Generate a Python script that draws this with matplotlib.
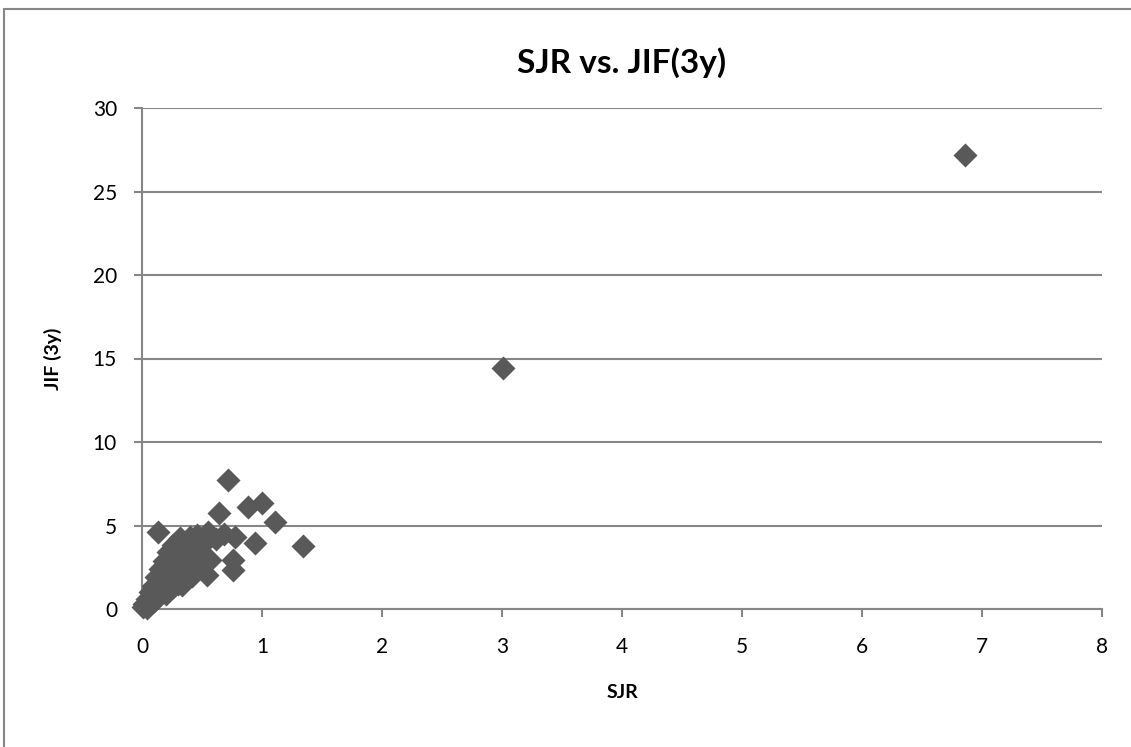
import matplotlib
matplotlib.use("Agg")
import matplotlib.pyplot as plt
from matplotlib.patches import Rectangle

plt.rcParams['font.family'] = ['Lato', 'DejaVu Sans']

# SJR and 3-year JIF per journal
sjr = [0.01, 0.02, 0.03, 0.05, 0.04,
       0.04, 0.06, 0.08, 0.10, 0.12,
       0.07, 0.09, 0.11, 0.14, 0.17, 0.20,
       0.09, 0.12, 0.15, 0.18, 0.22, 0.26, 0.30, 0.33,
       0.12, 0.15, 0.19, 0.23, 0.27, 0.31, 0.35, 0.38, 0.42, 0.34,
       0.15, 0.18, 0.22, 0.26, 0.30, 0.34, 0.38, 0.42, 0.46,
       0.18, 0.22, 0.26, 0.30, 0.34, 0.38, 0.42, 0.45, 0.49,
       0.22, 0.26, 0.30, 0.34, 0.38, 0.41, 0.45, 0.48,
       0.26, 0.30, 0.34, 0.38, 0.42, 0.45, 0.50,
       0.32, 0.40, 0.46,
       0.136, 0.55, 0.62, 0.68, 0.775, 0.64, 0.72, 0.88, 1.00, 1.11,
       0.94, 1.34, 0.76, 0.76, 0.54, 0.57, 3.01, 6.86]
jif = [0.10, 0.30, 0.15, 0.20, 0.05,
       0.60, 0.50, 0.70, 0.50, 0.60,
       1.00, 0.90, 1.10, 0.95, 1.05, 0.90,
       1.40, 1.50, 1.35, 1.60, 1.45, 1.30, 1.50, 1.45,
       1.90, 2.05, 1.85, 2.00, 1.90, 2.10, 1.85, 2.00, 1.95, 1.73,
       2.40, 2.55, 2.35, 2.50, 2.40, 2.60, 2.35, 2.50, 2.40,
       2.90, 3.05, 2.85, 3.00, 2.90, 3.10, 2.85, 3.00, 2.90,
       3.40, 3.55, 3.35, 3.50, 3.40, 3.60, 3.35, 3.50,
       3.85, 4.00, 3.80, 4.05, 3.90, 4.10, 3.85,
       4.25, 4.30, 4.43,
       4.63, 4.63, 4.20, 4.50, 4.33, 5.77, 7.72, 6.13, 6.33, 5.23,
       3.93, 3.79, 2.93, 2.33, 2.03, 2.93, 14.45, 27.2]

xticks = [0, 1, 2, 3, 4, 5, 6, 7, 8]
yticks = [0, 5, 10, 15, 20, 25, 30]

grey = "#868686"

fig = plt.figure(figsize=(11.31, 7.47), dpi=100)
ax = fig.add_axes([142 / 1131, 1 - 609 / 747, 960 / 1131, 501 / 747])

ax.scatter(sjr, jif, marker="D", s=150, color="#595959", linewidths=0,
           zorder=3, clip_on=False)

ax.set_xlim(0, 8)
ax.set_ylim(0, 30)
ax.set_xticks(xticks)
ax.set_yticks(yticks)
ax.yaxis.grid(True, color=grey, linewidth=1.5)
ax.set_axisbelow(True)

for side in ["top", "right"]:
    ax.spines[side].set_visible(False)
for side in ["left", "bottom"]:
    ax.spines[side].set_color(grey)
    ax.spines[side].set_linewidth(1.5)

ax.tick_params(axis="both", direction="out", length=6, width=1.5, color=grey,
               labelsize=15, labelcolor="black")
ax.tick_params(axis="x", pad=14)
ax.tick_params(axis="y", pad=12)

ax.set_title("SJR vs. JIF(3y)", fontsize=24, fontweight="bold", pad=25)
ax.set_xlabel("SJR", fontsize=14, fontweight="bold")
ax.set_ylabel("JIF (3y)", fontsize=14, fontweight="bold")
ax.xaxis.set_label_coords(0.5, -0.15)
ax.yaxis.set_label_coords(-0.083, 0.5)

# chart border, running off the right and bottom edges
fig.patches.append(Rectangle((4 / 1131, -0.05), 1.1, 1 - 9 / 747 + 0.05,
                             transform=fig.transFigure, fill=False,
                             edgecolor=grey, linewidth=1.5))

fig.savefig("out.png", dpi=100)
